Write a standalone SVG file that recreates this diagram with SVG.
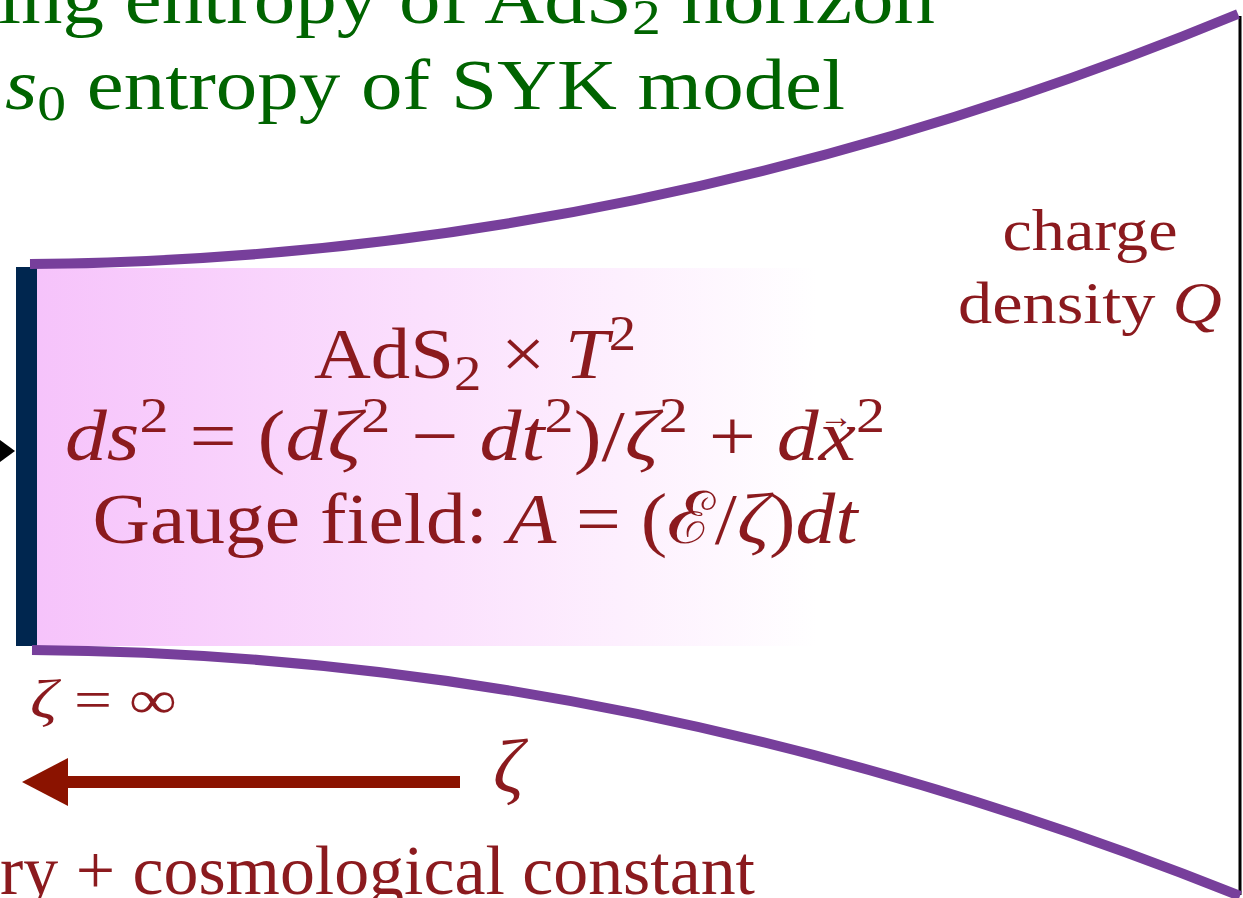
<svg xmlns="http://www.w3.org/2000/svg" width="1243" height="898" viewBox="0 0 1243 898">
<style>
.t{font-family:"Liberation Serif","DejaVu Serif",serif;}
.g{fill:#006400;font-size:72px;}
.r{fill:#8b1a1e;}
.i{font-style:italic;}
.edge{fill:none;stroke:#773f9b;stroke-width:10;}
</style>
<defs>
<linearGradient id="pink" x1="0" y1="0" x2="1" y2="0">
<stop offset="0" stop-color="#f6c3fb"/>
<stop offset="0.5" stop-color="#fbe0fd"/>
<stop offset="1" stop-color="#ffffff"/>
</linearGradient>
</defs>
<rect width="1243" height="898" fill="#ffffff"/>
<g id="title">
<text class="t g" x="-2" y="23" textLength="937" lengthAdjust="spacingAndGlyphs">ing entropy of AdS<tspan dy="11" font-size="50">2</tspan><tspan dy="-11"> horizon</tspan></text>
<text class="t g" x="5" y="109" textLength="840" lengthAdjust="spacingAndGlyphs"><tspan class="i">s</tspan><tspan dy="11" font-size="50">0</tspan><tspan dy="-11"> entropy of SYK model</tspan></text>
</g>
<g id="region">
<rect x="37" y="268" width="780" height="378" fill="url(#pink)"/>
<rect x="16" y="267" width="21" height="379" fill="#00264f"/>
<polygon points="0,440 15,451 0,462" fill="#000000"/>
</g>
<g id="boundary">
<line x1="1240" y1="16" x2="1240" y2="895" stroke="#000000" stroke-width="3"/>
</g>
<g id="connectors">
<path class="edge" d="M30,264 C450,261 850,174 1238,14"/>
<path class="edge" d="M32,650 C450,653 850,740 1240,896"/>
<line x1="62" y1="782" x2="460" y2="782" stroke="#8b1300" stroke-width="12"/>
<polygon points="22,782 68,758 68,806" fill="#8b1300"/>
</g>
<g id="metric">
<text class="t r" x="475" y="378" font-size="72" text-anchor="middle" textLength="322" lengthAdjust="spacingAndGlyphs">AdS<tspan dy="12" font-size="50">2</tspan><tspan dy="-12"> × </tspan><tspan class="i">T</tspan><tspan dy="-28" font-size="50">2</tspan></text>
<text class="t r" x="475" y="460" font-size="72" text-anchor="middle" textLength="820" lengthAdjust="spacingAndGlyphs"><tspan class="i">ds</tspan><tspan dy="-28" font-size="50">2</tspan><tspan dy="28"> = (</tspan><tspan class="i">dζ</tspan><tspan dy="-28" font-size="50">2</tspan><tspan dy="28"> − </tspan><tspan class="i">dt</tspan><tspan dy="-28" font-size="50">2</tspan><tspan dy="28">)/</tspan><tspan class="i">ζ</tspan><tspan dy="-28" font-size="50">2</tspan><tspan dy="28"> + </tspan><tspan class="i">dx</tspan><tspan dy="-28" font-size="50">2</tspan></text>
<text class="t r" x="836" y="428" font-size="34" text-anchor="middle">→</text>
<text class="t r" x="475" y="543" font-size="72" text-anchor="middle" textLength="765" lengthAdjust="spacingAndGlyphs">Gauge field:  <tspan class="i">A</tspan> = (ℰ/<tspan class="i">ζ</tspan>)<tspan class="i">dt</tspan></text>
</g>
<g id="charge">
<text class="t r" x="1090" y="250" font-size="60" text-anchor="middle" textLength="175" lengthAdjust="spacingAndGlyphs">charge</text>
<text class="t r" x="1090" y="323" font-size="60" text-anchor="middle" textLength="264" lengthAdjust="spacingAndGlyphs">density <tspan class="i">Q</tspan></text>
</g>
<g id="zeta-labels">
<text class="t r" x="30" y="718" font-size="54" textLength="147" lengthAdjust="spacingAndGlyphs"><tspan class="i">ζ</tspan> = ∞</text>
<text class="t r i" x="493" y="792" font-size="76">ζ</text>
</g>
<g id="bottom">
<text class="t r" x="0" y="894" font-size="70" textLength="755" lengthAdjust="spacingAndGlyphs">ry + cosmological constant</text>
</g>
</svg>
